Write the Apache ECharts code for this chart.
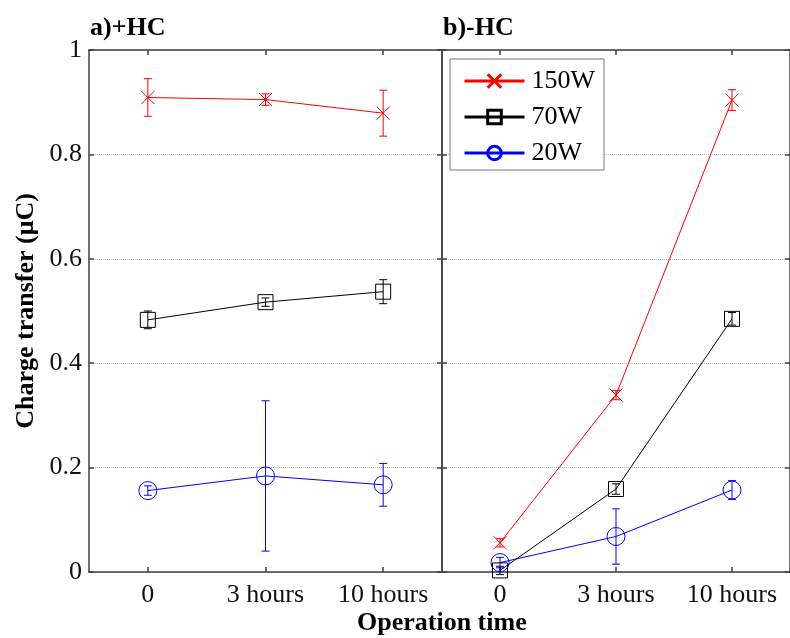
<!DOCTYPE html>
<html>
<head>
<meta charset="utf-8">
<script src="https://cdn.jsdelivr.net/npm/echarts@6/dist/echarts.min.js"></script>
<style>
  html, body { margin: 0; padding: 0; background: #fff; }
  #chart { width: 790px; height: 638px; }
</style>
</head>
<body>
<div id="chart"></div>
<script>
// categories on both panels
const times = ['0', '3 hours', '10 hours']
const yTicks = [0, 0.2, 0.4, 0.6, 0.8, 1]

// a) +HC panel, means and error half-widths
const hc150 = [0.909, 0.905, 0.879]
const hc150Err = [0.036, 0.011, 0.044]
const hc70 = [0.483, 0.517, 0.537]
const hc70Err = [0.017, 0.008, 0.023]
const hc20 = [0.156, 0.184, 0.167]
const hc20Err = [0.009, 0.144, 0.041]

// b) -HC panel
const noHc150 = [0.056, 0.339, 0.904]
const noHc150Err = [0.008, 0.009, 0.02]
const noHc70 = [0.003, 0.159, 0.485]
const noHc70Err = [0.008, 0.01, 0.012]
const noHc20 = [0.018, 0.068, 0.157]
const noHc20Err = [0.01, 0.053, 0.018]

const FONT = 'Liberation Serif'
const AXIS = '#404040'
const xMark = 'path://M0,0L10,10M10,0L0,10'

const styles = {
  '150W': { color: '#ff0000', symbol: xMark, size: 13 },
  '70W': { color: '#000000', symbol: 'rect', size: 15 },
  '20W': { color: '#0000ff', symbol: 'circle', size: 18 }
}

const lineSeries = (name, vals, panel) => ({
  name: name,
  type: 'line',
  xAxisIndex: panel * 2,
  yAxisIndex: panel * 2,
  data: vals,
  symbol: styles[name].symbol,
  symbolSize: styles[name].size,
  showAllSymbol: true,
  lineStyle: { color: styles[name].color, width: 1 },
  itemStyle: { color: 'transparent', borderColor: styles[name].color, borderWidth: 1 },
  emphasis: { disabled: true },
  animation: false,
  z: 3
})

const errSeries = (name, vals, errs, panel) => ({
  name: name + ' err' + panel,
  type: 'custom',
  xAxisIndex: panel * 2,
  yAxisIndex: panel * 2,
  data: vals.map((v, i) => [i, v - errs[i], v + errs[i]]),
  encode: { x: 0, y: [1, 2] },
  renderItem: (params, api) => {
    const lo = api.coord([api.value(0), api.value(1)])
    const hi = api.coord([api.value(0), api.value(2)])
    const cap = 4
    const st = { stroke: styles[name].color, lineWidth: 1 }
    return {
      type: 'group',
      children: [
        { type: 'line', shape: { x1: lo[0], y1: lo[1], x2: hi[0], y2: hi[1] }, style: st },
        { type: 'line', shape: { x1: lo[0] - cap, y1: lo[1], x2: lo[0] + cap, y2: lo[1] }, style: st },
        { type: 'line', shape: { x1: hi[0] - cap, y1: hi[1], x2: hi[0] + cap, y2: hi[1] }, style: st }
      ]
    }
  },
  animation: false,
  z: 3
})

const xAxisFor = (grid, pos, labels) => ({
  type: 'category',
  gridIndex: grid,
  position: pos,
  data: times,
  boundaryGap: true,
  axisLine: { show: true, onZero: false, lineStyle: { color: AXIS, width: 1.5 } },
  axisTick: { show: true, inside: true, alignWithLabel: true, length: 5, lineStyle: { color: AXIS, width: 1.5 } },
  axisLabel: { show: labels, interval: 0, hideOverlap: false, color: '#111', fontFamily: FONT, fontSize: 26, margin: 10 },
  splitLine: { show: false }
})

const yAxisFor = (grid, pos, labels) => ({
  type: 'value',
  gridIndex: grid,
  position: pos,
  min: 0,
  max: 1,
  interval: 0.2,
  axisLine: { show: true, onZero: false, lineStyle: { color: AXIS, width: 1.5 } },
  axisTick: { show: true, inside: true, length: 5, lineStyle: { color: AXIS, width: 1.5 } },
  axisLabel: {
    show: labels, color: '#111', fontFamily: FONT, fontSize: 26, margin: 7,
    formatter: v => (yTicks.includes(Math.round(v * 10) / 10) ? String(Math.round(v * 10) / 10) : '')
  },
  splitLine: { show: pos === 'left', lineStyle: { color: '#b8b8b8', type: [1, 1], width: 1 } }
})

const chart = echarts.init(document.getElementById('chart'), null, { renderer: 'canvas' })

const yLeft = yAxisFor(0, 'left', true)
yLeft.name = 'Charge transfer (μC)'
yLeft.nameLocation = 'middle'
yLeft.nameRotate = 90
yLeft.nameGap = 50
yLeft.nameTextStyle = { fontFamily: FONT, fontWeight: 'bold', fontSize: 26, color: '#000' }

chart.setOption({
  backgroundColor: '#fff',
  animation: false,
  title: [
    { text: 'a)+HC', left: 85, top: 10, textStyle: { fontFamily: FONT, fontWeight: 'bold', fontSize: 26, color: '#000' } },
    { text: 'b)-HC', left: 438, top: 10, textStyle: { fontFamily: FONT, fontWeight: 'bold', fontSize: 26, color: '#000' } },
    { text: 'Operation time', left: 352, top: 605, textStyle: { fontFamily: FONT, fontWeight: 'bold', fontSize: 26, color: '#000' } }
  ],
  grid: [
    { left: 89, top: 50, width: 353, height: 522 },
    { left: 442, top: 50, width: 353, height: 522 }
  ],
  xAxis: [
    xAxisFor(0, 'bottom', true),
    xAxisFor(0, 'top', false),
    xAxisFor(1, 'bottom', true),
    xAxisFor(1, 'top', false)
  ],
  yAxis: [
    yLeft,
    yAxisFor(0, 'right', false),
    yAxisFor(1, 'left', false),
    yAxisFor(1, 'right', false)
  ],
  legend: {
    data: ['150W', '70W', '20W'],
    orient: 'vertical',
    left: 450,
    top: 59,
    padding: [9, 9, 4, 13],
    itemGap: 10,
    itemWidth: 60,
    itemHeight: 17,
    backgroundColor: '#fff',
    borderColor: '#777',
    borderWidth: 1,
    borderRadius: 0,
    selectedMode: false,
    lineStyle: { width: 3 },
    itemStyle: { borderWidth: 3 },
    textStyle: { fontFamily: FONT, fontSize: 26, color: '#000', padding: [0, 0, 0, 2] }
  },
  series: [
    lineSeries('150W', hc150, 0),
    lineSeries('70W', hc70, 0),
    lineSeries('20W', hc20, 0),
    errSeries('150W', hc150, hc150Err, 0),
    errSeries('70W', hc70, hc70Err, 0),
    errSeries('20W', hc20, hc20Err, 0),
    lineSeries('150W', noHc150, 1),
    lineSeries('70W', noHc70, 1),
    lineSeries('20W', noHc20, 1),
    errSeries('150W', noHc150, noHc150Err, 1),
    errSeries('70W', noHc70, noHc70Err, 1),
    errSeries('20W', noHc20, noHc20Err, 1)
  ]
})
</script>
</body>
</html>
